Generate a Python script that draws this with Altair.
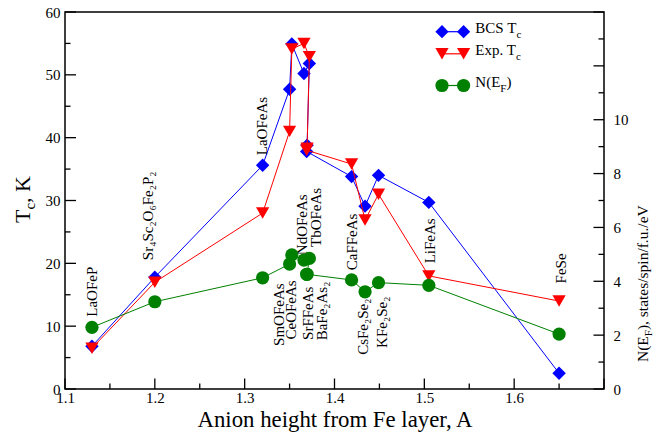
import altair as alt
import pandas as pd

FONT = "Liberation Serif"

# ---- data ----
compounds = ["LaOFeP", "Sr4Sc2O6Fe2P2", "LaOFeAs", "CeOFeAs", "SmOFeAs", "NdOFeAs",
             "TbOFeAs", "SrFFeAs", "BaFe2As2", "CaFFeAs", "CsFe2Se2", "KFe2Se2",
             "LiFeAs", "FeSe"]
anion_height = [1.13, 1.20, 1.32, 1.35, 1.3525, 1.366, 1.372, 1.3695, 1.369,
                1.419, 1.434, 1.449, 1.505, 1.65]
bcs_tc = [6.8, 17.8, 35.6, 47.7, 54.9, 50.2, 51.8, 38.8, 37.8, 33.8, 29.1, 34.0, 29.7, 2.5]
exp_tc = [6.5, 17.0, 28.0, 41.0, 54.1, 55.0, 52.9, 38.3, 38.0, 35.8, 26.9, 31.0, 18.0, 14.0]
n_ef = [2.29, 3.24, 4.13, 4.64, 4.98, 4.79, 4.85, 4.26, 4.26, 4.05, 3.61, 3.95, 3.85, 2.04]

above_labels = ["LaOFeP", "Sr₄Sc₂O₆Fe₂P₂", "LaOFeAs", "NdOFeAs", "TbOFeAs",
                "CaFFeAs", "LiFeAs", "FeSe"]
above_x = [1.1303, 1.192, 1.319, 1.364, 1.379, 1.419, 1.506, 1.652]
above_y = [11.5, 20.5, 37.2, 21.3, 22.6, 18.9, 20.0, 16.8]
below_labels = ["SmOFeAs", "CeOFeAs", "SrFFeAs", "BaFe₂As₂", "CsFe₂Se₂", "KFe₂Se₂"]
below_x = [1.3385, 1.352, 1.371, 1.3856, 1.432, 1.4533]
below_y = [16.8, 17.3, 16.3, 17.1, 14.4, 14.7]

x_ticks_major = [1.1, 1.2, 1.3, 1.4, 1.5, 1.6, 1.7]
x_ticks_minor = [1.15, 1.25, 1.35, 1.45, 1.55, 1.65]
x_labels = [1.1, 1.2, 1.3, 1.4, 1.5, 1.6]
tc_ticks_major = [0, 10, 20, 30, 40, 50, 60]
tc_ticks_minor = [5, 15, 25, 35, 45, 55]
n_ticks_major = [0, 2, 4, 6, 8, 10, 12, 14]
n_ticks_minor = [1, 3, 5, 7, 9, 11, 13]
n_labels = [0, 2, 4, 6, 8, 10]

df = pd.DataFrame({"compound": compounds, "x": anion_height, "bcs": bcs_tc,
                   "exp": exp_tc, "n": n_ef, "idx": list(range(len(compounds)))})
above_df = pd.DataFrame({"label": above_labels, "lx": above_x, "ly": above_y})
below_df = pd.DataFrame({"label": below_labels, "lx": below_x, "ly": below_y})

W, H = 539, 377

xs = alt.Scale(domain=[1.1, 1.7], nice=False, zero=False)
ys = alt.Scale(domain=[0, 60], nice=False, zero=False)
ns = alt.Scale(domain=[0, 14], nice=False, zero=False)

x_axis = alt.Axis(values=x_labels, format=".1f", ticks=False, tickSize=0, domain=False, grid=False,
                  labelFont=FONT, labelFontSize=15, labelColor="black", labelPadding=1,
                  labelFlush=False, labelOverlap=False,
                  title="Anion height from Fe layer, A", titleFont=FONT, titleFontSize=22.8,
                  titleFontWeight="normal", titleColor="black",
                  titleBaseline="alphabetic", titleY=37)
y_axis = alt.Axis(values=tc_ticks_major, ticks=False, tickSize=0, domain=False, grid=False,
                  labelFont=FONT, labelFontSize=15, labelColor="black", labelPadding=5,
                  labelFlush=False, labelOverlap=False, title=None, orient="left")
n_axis = alt.Axis(values=n_labels, ticks=False, tickSize=0, domain=False, grid=False,
                  labelFont=FONT, labelFontSize=15, labelColor="black", labelPadding=9,
                  labelFlush=False, labelOverlap=False, title=None, orient="right")


def xenc(f):
    return alt.X(f"{f}:Q", scale=xs, axis=x_axis)


def yenc(f):
    return alt.Y(f"{f}:Q", scale=ys, axis=y_axis)


def nenc(f):
    return alt.Y(f"{f}:Q", scale=ns, axis=n_axis)


base = alt.Chart(df)
one = alt.Data(values=[{"a": 1}])

blue_line = base.mark_line(color="#0000ff", strokeWidth=1).encode(x=xenc("x"), y=yenc("bcs"), order="idx:Q")
blue_pts = base.mark_point(shape="diamond", filled=True, size=180, color="#0000ff", opacity=1).encode(
    x=xenc("x"), y=yenc("bcs"))
red_line = base.mark_line(color="#ff0000", strokeWidth=1).encode(x=xenc("x"), y=yenc("exp"), order="idx:Q")
red_pts = base.mark_point(shape="triangle-down", filled=True, size=175, color="#ff0000", opacity=1).encode(
    x=xenc("x"), y=yenc("exp"))

txt_above = alt.Chart(above_df).mark_text(font=FONT, fontSize=15, angle=270, align="left",
                                          baseline="middle", color="black").encode(
    x=xenc("lx"), y=yenc("ly"), text="label:N")
txt_below = alt.Chart(below_df).mark_text(font=FONT, fontSize=15, angle=270, align="right",
                                          baseline="middle", color="black").encode(
    x=xenc("lx"), y=yenc("ly"), text="label:N")


def tick_layer(values, field, enc, **pix):
    d = pd.DataFrame({field: values})
    return alt.Chart(d).mark_rule(color="black", strokeWidth=1.3).encode(
        **{("x" if field == "tx" else "y"): enc(field)}, **pix)


ticks = [
    tick_layer(tc_ticks_major, "ty", yenc, x=alt.value(0), x2=alt.value(11)),
    tick_layer(tc_ticks_minor, "ty", yenc, x=alt.value(0), x2=alt.value(5.5)),
    tick_layer(x_ticks_major, "tx", xenc, y=alt.value(H), y2=alt.value(H - 10.5)),
    tick_layer(x_ticks_minor, "tx", xenc, y=alt.value(H), y2=alt.value(H - 5.5)),
]


def txt(s, x, y, size, angle=0, align="left", baseline="alphabetic"):
    return alt.Chart(one).mark_text(text=s, font=FONT, fontSize=size, angle=angle, align=align,
                                    baseline=baseline, color="black").encode(
        x=alt.value(x), y=alt.value(y))


# left axis title: T_c, K
titles = [
    txt("T", -34.7, 211, 22, angle=270),
    txt("c", -29.7, 197.6, 15, angle=270),
    txt(", K", -34.7, 190.9, 22, angle=270),
    # right axis title: N(E_F), states/spin/f.u./eV
    txt("N(E", 583.3, 350, 15.5, angle=270),
    txt("F", 587.3, 324.2, 11, angle=270),
    txt("), states/spin/f.u./eV", 583.3, 318.1, 15.5, angle=270),
]


def legend_entry(color, shape, y, label, sub, sub_x, tail=None, tail_x=None):
    parts = [
        alt.Chart(one).mark_rule(color=color, strokeWidth=1.2).encode(
            x=alt.value(377), x2=alt.value(398.6), y=alt.value(y)),
        alt.Chart(one).mark_point(shape=shape, filled=True, size=175, color=color, opacity=1).encode(
            x=alt.value(377), y=alt.value(y)),
        alt.Chart(one).mark_point(shape=shape, filled=True, size=175, color=color, opacity=1).encode(
            x=alt.value(398.6), y=alt.value(y)),
        txt(label, 410.3, y + 1.5, 15),
        txt(sub, sub_x, y + 6.5, 11),
    ]
    if tail:
        parts.append(txt(tail, tail_x, y + 1.5, 15))
    return parts


legend = (legend_entry("#0000ff", "diamond", 19.7, "BCS T", "c", 451.6)
          + legend_entry("#ff0000", "triangle-down", 41.8, "Exp. T", "c", 451.1)
          + legend_entry("#008000", "circle", 73.5, "N(E", "F", 435.3, ")", 441.4))

tc_layer = alt.layer(*ticks, blue_line, blue_pts, red_line, red_pts, txt_above, txt_below,
                     *titles, *legend)

green_line = base.mark_line(color="#008000", strokeWidth=1).encode(x=xenc("x"), y=nenc("n"), order="idx:Q")
green_pts = base.mark_point(shape="circle", filled=True, size=175, color="#008000", opacity=1).encode(
    x=xenc("x"), y=nenc("n"))
n_ticks = [
    alt.Chart(pd.DataFrame({"tn": n_ticks_major})).mark_rule(color="black", strokeWidth=1.3).encode(
        y=nenc("tn"), x=alt.value(W), x2=alt.value(W - 10.5)),
    alt.Chart(pd.DataFrame({"tn": n_ticks_minor})).mark_rule(color="black", strokeWidth=1.3).encode(
        y=nenc("tn"), x=alt.value(W), x2=alt.value(W - 5.5)),
]
n_layer = alt.layer(*n_ticks, green_line, green_pts)

chart = alt.layer(tc_layer, n_layer).resolve_scale(y="independent").properties(
    width=W, height=H,
    autosize=alt.AutoSizeParams(type="none"),
    padding={"left": 57, "top": 4, "right": 60, "bottom": 46},
    background="white",
).configure_view(stroke="black", strokeWidth=1.5)

chart.save("out.html", embed_options={"renderer": "svg", "actions": False})
